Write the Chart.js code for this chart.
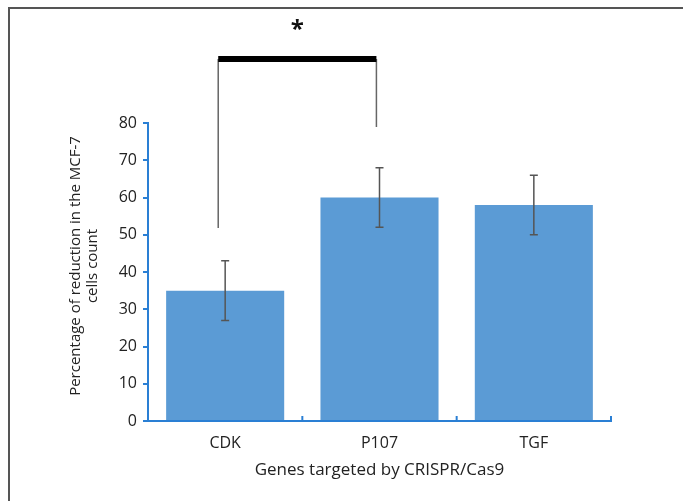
<!DOCTYPE html>
<html>
<head>
<meta charset="utf-8">
<script src="https://cdn.jsdelivr.net/npm/chart.js@4/dist/chart.umd.min.js"></script>
<style>
  html, body { margin: 0; padding: 0; background: #fff; }
  #wrap { width: 683px; height: 501px; }
</style>
</head>
<body>
<div id="wrap"><canvas id="chart" width="683" height="501"></canvas></div>
<script>
// data
const genes = ['CDK', 'P107', 'TGF'];
const reduction = [35, 60, 58];
const errLow = [27, 52, 50];
const errHigh = [43, 68, 66];
const yTicks = [0, 10, 20, 30, 40, 50, 60, 70, 80];

// significance bracket (category position, value)
const bracketX = [-0.045, 0.98];
const bracketFoot = [51.8, 78.9];
const bracketTop = 97.2;
const starValue = 105.7;

const FONT = "'Open Sans', sans-serif";
const AXIS_BLUE = '#2a7fd4';

const frame = {
  id: 'frame',
  beforeDraw(chart) {
    const ctx = chart.ctx;
    ctx.save();
    ctx.fillStyle = '#fff';
    ctx.fillRect(0, 0, chart.width, chart.height);
    ctx.strokeStyle = '#555';
    ctx.lineWidth = 2;
    ctx.beginPath();
    ctx.moveTo(9, chart.height);
    ctx.lineTo(9, 8);
    ctx.lineTo(chart.width, 8);
    ctx.stroke();
    ctx.restore();
  }
};

const extras = {
  id: 'extras',
  afterDatasetsDraw(chart) {
    const { ctx, scales: { x, y } } = chart;
    ctx.save();

    // error bars
    ctx.strokeStyle = '#555';
    ctx.lineWidth = 1.5;
    genes.forEach((g, i) => {
      const cx = x.getPixelForValue(i);
      const lo = y.getPixelForValue(errLow[i]);
      const hi = y.getPixelForValue(errHigh[i]);
      ctx.beginPath();
      ctx.moveTo(cx, lo); ctx.lineTo(cx, hi);
      ctx.moveTo(cx - 4, lo); ctx.lineTo(cx + 4, lo);
      ctx.moveTo(cx - 4, hi); ctx.lineTo(cx + 4, hi);
      ctx.stroke();
    });

    // x axis ticks at category boundaries, pointing up
    ctx.strokeStyle = AXIS_BLUE;
    ctx.lineWidth = 2;
    for (let i = 1; i <= genes.length; i++) {
      const bx = x.getPixelForValue(i - 0.5);
      ctx.beginPath();
      ctx.moveTo(bx, y.bottom); ctx.lineTo(bx, y.bottom - 5);
      ctx.stroke();
    }

    // significance bracket
    const xl = x.getPixelForValue(bracketX[0]);
    const xr = x.getPixelForValue(bracketX[1]);
    const top = y.getPixelForValue(bracketTop);
    ctx.strokeStyle = '#666';
    ctx.lineWidth = 1.5;
    ctx.beginPath();
    ctx.moveTo(xl, y.getPixelForValue(bracketFoot[0])); ctx.lineTo(xl, top);
    ctx.moveTo(xr, y.getPixelForValue(bracketFoot[1])); ctx.lineTo(xr, top);
    ctx.stroke();
    ctx.strokeStyle = '#000';
    ctx.lineWidth = 6;
    ctx.beginPath();
    ctx.moveTo(xl, top); ctx.lineTo(xr, top);
    ctx.stroke();
    ctx.fillStyle = '#111';
    ctx.font = 'bold 24px ' + FONT;
    ctx.textAlign = 'center';
    ctx.textBaseline = 'middle';
    ctx.fillText('*', (xl + xr) / 2, y.getPixelForValue(starValue) + 3);

    // y axis title, two lines
    ctx.fillStyle = '#222';
    ctx.font = '15px ' + FONT;
    ctx.translate(84, 266);
    ctx.rotate(-Math.PI / 2);
    ctx.fillText('Percentage of reduction in the MCF-7', 0, -8);
    ctx.fillText('cells count', 0, 9);
    ctx.restore();
  }
};

new Chart(document.getElementById('chart'), {
  type: 'bar',
  data: {
    labels: genes,
    datasets: [{
      data: reduction,
      backgroundColor: '#5b9bd5',
      borderWidth: 0,
      categoryPercentage: 1,
      barPercentage: 0.765,
    }],
  },
  options: {
    responsive: false,
    animation: false,
    devicePixelRatio: 1,
    layout: { padding: { left: 10, top: 123, right: 72, bottom: 10 } },
    plugins: { legend: { display: false }, tooltip: { enabled: false } },
    scales: {
      x: {
        grid: { display: false },
        border: { color: AXIS_BLUE, width: 2 },
        ticks: { color: '#222', font: { family: FONT, size: 16 }, padding: 5 },
        title: {
          display: true,
          text: 'Genes targeted by CRISPR/Cas9',
          color: '#222',
          font: { family: FONT, size: 17 },
          padding: { top: 6, bottom: 11 },
        },
        afterFit(scale) { scale.height = 501 - 421 - 10; },
      },
      y: {
        min: 0,
        max: 80,
        afterBuildTicks(scale) { scale.ticks = yTicks.map(v => ({ value: v })); },
        grid: { drawOnChartArea: false, color: AXIS_BLUE, lineWidth: 2, tickLength: 5 },
        border: { color: AXIS_BLUE, width: 2 },
        ticks: { color: '#222', font: { family: FONT, size: 16 }, padding: 6 },
        afterFit(scale) { scale.width = 148 - 10; },
      },
    },
  },
  plugins: [frame, extras],
});
</script>
</body>
</html>
